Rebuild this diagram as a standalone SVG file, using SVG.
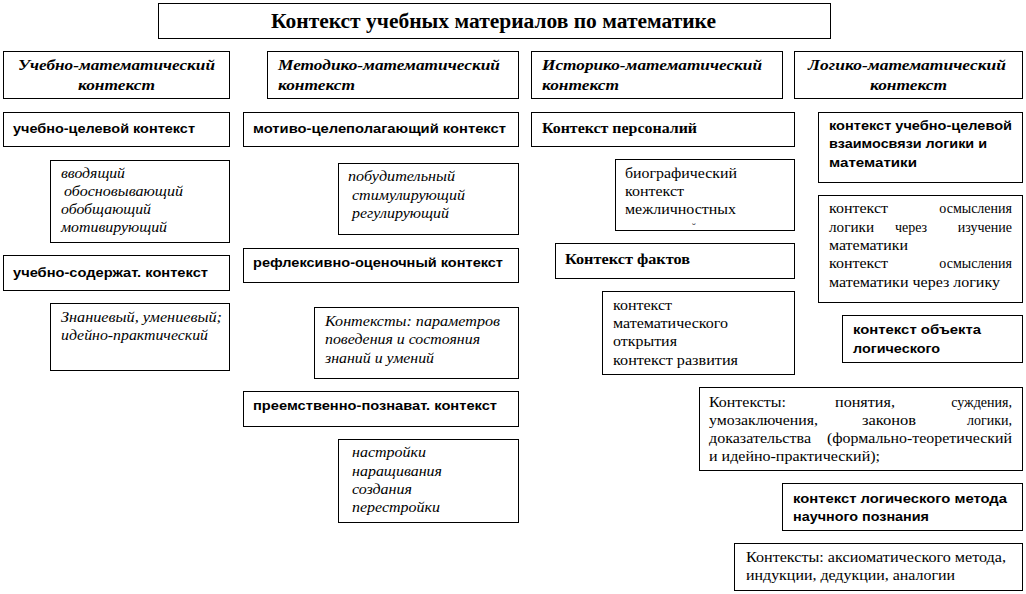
<svg xmlns="http://www.w3.org/2000/svg" width="1026" height="594" viewBox="0 0 1026 594">
<style>
rect{fill:#fff;stroke:#000;stroke-width:1}
text{fill:#000}
.t{font-family:"Liberation Serif",serif;font-weight:bold;font-size:20px}
.h{font-family:"Liberation Serif",serif;font-weight:bold;font-style:italic;font-size:15px}
.b{font-family:"Liberation Sans",sans-serif;font-weight:bold;font-size:13px}
.bs{font-family:"Liberation Serif",serif;font-weight:bold;font-size:14px}
.i{font-family:"Liberation Serif",serif;font-style:italic;font-size:14px}
.r{font-family:"Liberation Serif",serif;font-size:14px}
.e{text-anchor:end}
.m{text-anchor:middle}
</style>
<rect x="0" y="0" width="1026" height="594" style="stroke:none"/>
<g id="title"><rect x="158.5" y="3.5" width="672" height="35"/><text class="t" x="271" y="28" textLength="445" lengthAdjust="spacingAndGlyphs">Контекст учебных материалов по математике</text></g>

<g id="h1"><rect x="3.5" y="51.5" width="226" height="47"/><text class="h" x="18" y="70" textLength="197" lengthAdjust="spacingAndGlyphs">Учебно-математический</text><text class="h" x="78" y="90" textLength="77" lengthAdjust="spacingAndGlyphs">контекст</text></g>
<g id="h2"><rect x="267.5" y="51.5" width="251" height="47"/><text class="h" x="278" y="70" textLength="222" lengthAdjust="spacingAndGlyphs">Методико-математический</text><text class="h" x="278" y="90" textLength="77" lengthAdjust="spacingAndGlyphs">контекст</text></g>
<g id="h3"><rect x="531.5" y="51.5" width="251" height="47"/><text class="h" x="542" y="70" textLength="220" lengthAdjust="spacingAndGlyphs">Историко-математический</text><text class="h" x="542" y="90" textLength="77" lengthAdjust="spacingAndGlyphs">контекст</text></g>
<g id="h4"><rect x="794.5" y="51.5" width="228" height="47"/><text class="h" x="808" y="70" textLength="198" lengthAdjust="spacingAndGlyphs">Логико-математический</text><text class="h" x="870" y="90" textLength="77" lengthAdjust="spacingAndGlyphs">контекст</text></g>

<g id="n1"><rect x="3.5" y="112.5" width="226" height="34"/><text class="b" x="13" y="133" textLength="182" lengthAdjust="spacingAndGlyphs">учебно-целевой контекст</text></g>
<g id="n2"><rect x="50.5" y="160.5" width="179" height="82"/>
<text class="i" x="61" y="178" textLength="64" lengthAdjust="spacingAndGlyphs">вводящий</text>
<text class="i" x="64" y="196" textLength="119" lengthAdjust="spacingAndGlyphs">обосновывающий</text>
<text class="i" x="61" y="214" textLength="90" lengthAdjust="spacingAndGlyphs">обобщающий</text>
<text class="i" x="61" y="232" textLength="106" lengthAdjust="spacingAndGlyphs">мотивирующий</text></g>
<g id="n3"><rect x="3.5" y="255.5" width="226" height="35"/><text class="b" x="13" y="277" textLength="195" lengthAdjust="spacingAndGlyphs">учебно-содержат. контекст</text></g>
<g id="n4"><rect x="50.5" y="303.5" width="179" height="67"/>
<text class="i" x="61" y="322" textLength="161" lengthAdjust="spacingAndGlyphs">Знаниевый, умениевый;</text>
<text class="i" x="61" y="340" textLength="147" lengthAdjust="spacingAndGlyphs">идейно-практический</text></g>

<g id="n5"><rect x="243.5" y="112.5" width="275" height="34"/><text class="b" x="253" y="133" textLength="253" lengthAdjust="spacingAndGlyphs">мотиво-целеполагающий контекст</text></g>
<g id="n6"><rect x="338.5" y="163.5" width="180" height="71"/>
<text class="i" x="348" y="181" textLength="107" lengthAdjust="spacingAndGlyphs">побудительный</text>
<text class="i" x="352" y="200" textLength="113" lengthAdjust="spacingAndGlyphs">стимулирующий</text>
<text class="i" x="352" y="218" textLength="97" lengthAdjust="spacingAndGlyphs">регулирующий</text></g>
<g id="n7"><rect x="243.5" y="248.5" width="275" height="34"/><text class="b" x="253" y="267" textLength="250" lengthAdjust="spacingAndGlyphs">рефлексивно-оценочный контекст</text></g>
<g id="n8"><rect x="314.5" y="307.5" width="204" height="71"/>
<text class="i" x="325" y="326" textLength="175" lengthAdjust="spacingAndGlyphs">Контексты: параметров</text>
<text class="i" x="325" y="344" textLength="155" lengthAdjust="spacingAndGlyphs">поведения и состояния</text>
<text class="i" x="325" y="363" textLength="109" lengthAdjust="spacingAndGlyphs">знаний и умений</text></g>
<g id="n9"><rect x="243.5" y="391.5" width="275" height="35"/><text class="b" x="253" y="410" textLength="244" lengthAdjust="spacingAndGlyphs">преемственно-познават. контекст</text></g>
<g id="n10"><rect x="338.5" y="439.5" width="180" height="83"/>
<text class="i" x="352" y="457" textLength="74" lengthAdjust="spacingAndGlyphs">настройки</text>
<text class="i" x="352" y="476" textLength="90" lengthAdjust="spacingAndGlyphs">наращивания</text>
<text class="i" x="352" y="494" textLength="60" lengthAdjust="spacingAndGlyphs">создания</text>
<text class="i" x="352" y="512" textLength="88" lengthAdjust="spacingAndGlyphs">перестройки</text></g>

<g id="n11"><rect x="531.5" y="112.5" width="263" height="34"/><text class="bs" x="542" y="133" textLength="155" lengthAdjust="spacingAndGlyphs">Контекст персоналий</text></g>
<g id="n12"><rect x="615.5" y="159.5" width="179" height="71"/>
<text class="r" x="625" y="178" textLength="112" lengthAdjust="spacingAndGlyphs">биографический</text>
<text class="r" x="625" y="196" textLength="59" lengthAdjust="spacingAndGlyphs">контекст</text>
<text class="r" x="625" y="214" textLength="111" lengthAdjust="spacingAndGlyphs">межличностных</text>
<text class="r" x="692" y="231" style="font-size:11px">˘</text></g>
<g id="n13"><rect x="555.5" y="243.5" width="239" height="35"/><text class="bs" x="565" y="264" textLength="125" lengthAdjust="spacingAndGlyphs">Контекст фактов</text></g>
<g id="n14"><rect x="602.5" y="291.5" width="192" height="83"/>
<text class="r" x="613" y="310" textLength="59" lengthAdjust="spacingAndGlyphs">контекст</text>
<text class="r" x="613" y="328" textLength="115" lengthAdjust="spacingAndGlyphs">математического</text>
<text class="r" x="613" y="346" textLength="64" lengthAdjust="spacingAndGlyphs">открытия</text>
<text class="r" x="613" y="365" textLength="125" lengthAdjust="spacingAndGlyphs">контекст развития</text></g>

<g id="n15"><rect x="818.5" y="112.5" width="204" height="70"/>
<text class="b" x="829" y="130" textLength="183" lengthAdjust="spacingAndGlyphs">контекст учебно-целевой</text>
<text class="b" x="829" y="148" textLength="158" lengthAdjust="spacingAndGlyphs">взаимосвязи логики и</text>
<text class="b" x="829" y="167" textLength="88" lengthAdjust="spacingAndGlyphs">математики</text></g>
<g id="n16"><rect x="818.5" y="195.5" width="204" height="107"/>
<text class="r" x="829" y="213" textLength="59" lengthAdjust="spacingAndGlyphs">контекст</text><text class="r e" x="1012" y="213">осмысления</text>
<text class="r" x="829" y="232" textLength="45" lengthAdjust="spacingAndGlyphs">логики</text><text class="r m" x="911" y="232">через</text><text class="r e" x="1012" y="232">изучение</text>
<text class="r" x="829" y="250" textLength="79" lengthAdjust="spacingAndGlyphs">математики</text>
<text class="r" x="829" y="268" textLength="59" lengthAdjust="spacingAndGlyphs">контекст</text><text class="r e" x="1012" y="268">осмысления</text>
<text class="r" x="829" y="287" textLength="171" lengthAdjust="spacingAndGlyphs">математики через логику</text></g>
<g id="n17"><rect x="842.5" y="315.5" width="180" height="47"/>
<text class="b" x="853" y="334" textLength="128" lengthAdjust="spacingAndGlyphs">контекст объекта</text>
<text class="b" x="853" y="353" textLength="87" lengthAdjust="spacingAndGlyphs">логического</text></g>
<g id="n18"><rect x="699.5" y="387.5" width="323" height="83"/>
<text class="r" x="709" y="407" textLength="77" lengthAdjust="spacingAndGlyphs">Контексты:</text><text class="r" x="835" y="407" textLength="60" lengthAdjust="spacingAndGlyphs">понятия,</text><text class="r e" x="1012" y="407">суждения,</text>
<text class="r" x="709" y="425" textLength="109" lengthAdjust="spacingAndGlyphs">умозаключения,</text><text class="r" x="862" y="425" textLength="54" lengthAdjust="spacingAndGlyphs">законов</text><text class="r e" x="1012" y="425">логики,</text>
<text class="r" x="709" y="443" textLength="102" lengthAdjust="spacingAndGlyphs">доказательства</text><text class="r" x="827" y="443" textLength="185" lengthAdjust="spacingAndGlyphs">(формально-теоретический</text>
<text class="r" x="709" y="461" textLength="171" lengthAdjust="spacingAndGlyphs">и идейно-практический);</text></g>
<g id="n19"><rect x="782.5" y="483.5" width="240" height="47"/>
<text class="b" x="793" y="503" textLength="214" lengthAdjust="spacingAndGlyphs">контекст логического метода</text>
<text class="b" x="793" y="521" textLength="136" lengthAdjust="spacingAndGlyphs">научного познания</text></g>
<g id="n20"><rect x="734.5" y="543.5" width="288" height="47"/>
<text class="r" x="746" y="562" textLength="260" lengthAdjust="spacingAndGlyphs">Контексты: аксиоматического метода,</text>
<text class="r" x="746" y="580" textLength="209" lengthAdjust="spacingAndGlyphs">индукции, дедукции, аналогии</text></g>
<g id="connectors"></g>
</svg>
